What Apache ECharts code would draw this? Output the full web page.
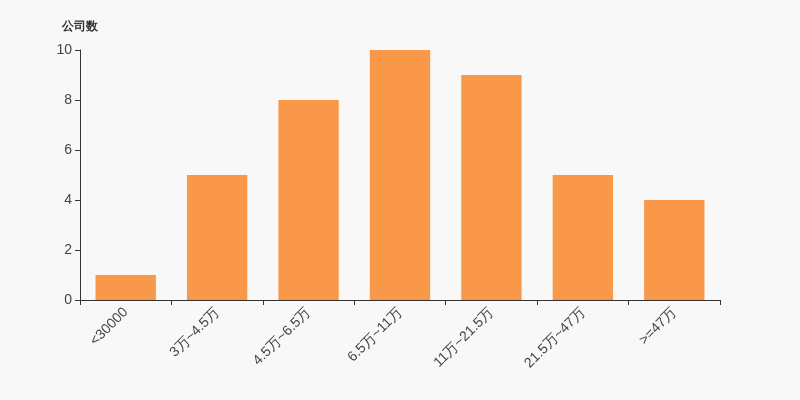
<!DOCTYPE html>
<html><head><meta charset="utf-8">
<script src="https://cdn.jsdelivr.net/npm/echarts@6/dist/echarts.min.js"></script>
<style>html,body{margin:0;padding:0;background:#f8f8f8;}#c{width:800px;height:400px;}</style>
</head><body><div id="c"></div>
<script>
const categories = ['<30000','3万~4.5万','4.5万~6.5万','6.5万~11万','11万~21.5万','21.5万~47万','>=47万'];
const counts = [1,5,8,10,9,5,4];
const yTicks = [0,2,4,6,8,10];
const chart = echarts.init(document.getElementById('c'));
chart.setOption({
  backgroundColor:'#f8f8f8',
  animation:false,
  grid:{left:80,right:80,top:50,bottom:100},
  xAxis:{type:'category',data:categories,
    axisLine:{lineStyle:{color:'#333',width:1}},
    axisTick:{show:true,length:5,alignWithLabel:false,lineStyle:{color:'#333'}},
    axisLabel:{rotate:45,color:'#444',fontSize:14,interval:0,margin:10}},
  yAxis:{type:'value',min:0,max:10,interval:2,name:'公司数',nameGap:17,
    nameTextStyle:{color:'#333',fontWeight:'bold',fontSize:12,align:'right',padding:[0,-18,0,0]},
    axisLine:{show:true,lineStyle:{color:'#333'}},
    axisTick:{show:true,length:5,lineStyle:{color:'#333'}},
    splitLine:{show:false},
    axisLabel:{color:'#444',fontSize:14,margin:8,formatter:v=>yTicks.includes(v)?String(v):''}},
  series:[{type:'bar',data:counts,barWidth:'66%',itemStyle:{color:'#f89848'}}]
});
</script></body></html>
